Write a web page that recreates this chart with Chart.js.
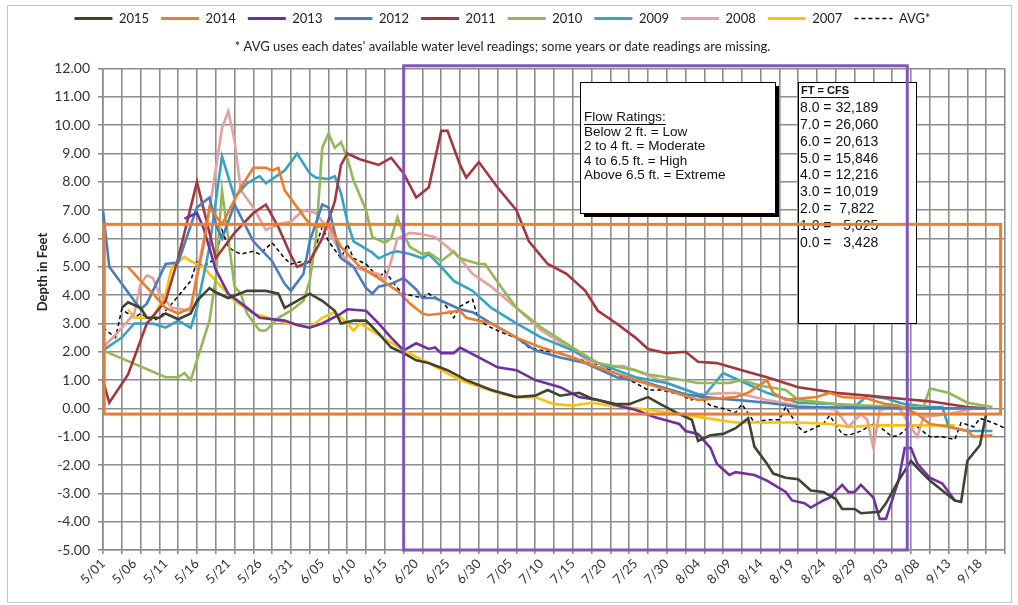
<!DOCTYPE html>
<html>
<head>
<meta charset="utf-8">
<script src="https://cdn.jsdelivr.net/npm/chart.js@4.4.0/dist/chart.umd.min.js"></script>
<style>
  html, body { margin: 0; padding: 0; background: #fff; }
  #wrap { width: 1018px; height: 605px; }
</style>
</head>
<body>
<div id="wrap"><canvas id="chart"></canvas></div>
<script>
// days 5/01 .. 9/22
const months = [['5', 31], ['6', 30], ['7', 31], ['8', 31], ['9', 22]];
const days = [];
months.forEach(([m, n]) => {
  for (let d = 1; d <= n; d++) days.push(m + '/' + String(d).padStart(2, '0'));
});

// [day index, depth in feet]
const s2015 = [[3,3.55],[4,3.75],[6,3.55],[7,3.2],[9,3.2],[10,3.35],[12,3.15],[14,3.35],[15,3.8],[17,4.25],[18,4.1],[20,3.9],[23,4.15],[26,4.15],[28,4.05],[29,3.55],[31,3.8],[33,4.05],[35,3.8],[37,3.45],[38,3.0],[40,3.1],[42,3.1],[44,2.65],[46,2.15],[48,1.95],[50,1.7],[52,1.6],[55,1.35],[58,1.0],[62,0.65],[66,0.4],[69,0.45],[71,0.65],[73,0.45],[76,0.55],[78,0.35],[82,0.15],[84,0.15],[87,0.4],[89,0.15],[92,-0.2],[94,-0.4],[95,-1.15],[97,-0.95],[99,-0.9],[101,-0.7],[103,-0.35],[104,-1.35],[106,-1.95],[107,-2.3],[109,-2.45],[111,-2.5],[113,-2.9],[115,-2.95],[117,-3.2],[118,-3.55],[120,-3.55],[121,-3.7],[124,-3.65],[125,-3.35],[127,-2.55],[129,-1.85],[130,-2.1],[132,-2.55],[134,-2.9],[136,-3.25],[137,-3.3],[138,-1.85],[140,-1.3],[141,-0.2]];
const s2014 = [[4,5.0],[6,4.5],[8,4.05],[10,3.55],[12,3.35],[14,3.55],[16,5.7],[17,7.1],[19,6.5],[22,7.8],[24,8.5],[26,8.5],[27,8.4],[28,8.5],[29,7.7],[31,7.1],[33,6.5],[35,6.4],[36,6.5],[38,5.7],[41,5.0],[44,4.6],[47,4.15],[49,3.7],[51,3.35],[52,3.3],[54,3.35],[57,3.45],[58,3.2],[62,3.0],[66,2.5],[70,2.15],[75,1.8],[79,1.45],[85,1.0],[90,0.65],[95,0.3],[101,0.4],[103,0.55],[106,1.0],[107,0.55],[109,0.3],[114,0.4],[116,0.55],[118,0.4],[122,0.35],[125,0.15],[127,0.1],[130,-0.2],[132,-0.55],[135,-0.65],[138,-0.8],[139,-1.0],[142,-0.95]];
const s2013 = [[13,6.7],[15,6.9],[16,6.4],[18,4.9],[20,4.05],[23,3.55],[25,3.2],[29,3.1],[31,2.95],[33,2.85],[35,3.0],[38,3.35],[39,3.5],[42,3.45],[44,3.0],[46,2.5],[48,2.05],[50,2.3],[52,2.1],[53,2.15],[54,1.95],[56,1.95],[57,2.15],[60,1.8],[63,1.45],[66,1.35],[69,1.0],[73,0.75],[76,0.4],[79,0.3],[83,0.05],[85,-0.05],[88,-0.3],[92,-0.55],[93,-0.8],[95,-0.9],[97,-1.4],[98,-1.95],[100,-2.35],[101,-2.25],[104,-2.35],[106,-2.55],[109,-2.95],[110,-3.25],[112,-3.35],[113,-3.5],[115,-3.25],[116,-3.15],[118,-2.7],[119,-2.95],[120,-2.95],[121,-2.7],[123,-3.15],[124,-3.9],[125,-3.9],[127,-2.55],[128,-1.4],[129,-1.4],[130,-1.95],[132,-2.45],[134,-2.65],[136,-3.25]];
const s2012 = [[0,7.0],[1,5.0],[6,3.5],[7,3.7],[10,5.1],[12,5.15],[15,7.1],[17,7.45],[18,6.5],[19,6.0],[21,7.2],[24,5.9],[27,5.2],[29,4.4],[30,4.15],[32,4.75],[33,5.9],[35,7.2],[36,7.1],[38,5.3],[40,5.0],[42,4.25],[43,4.05],[44,4.3],[46,4.4],[48,4.6],[50,4.2],[51,3.9],[53,3.9],[54,3.8],[57,3.5],[59,3.4],[62,3.0],[66,2.5],[69,2.05],[73,1.8],[77,1.6],[82,1.1],[87,0.9],[93,0.5],[96,0.4],[101,0.3],[106,0.2],[111,0.05],[128,0.0],[141,0.0]];
const s2011 = [[0,1.0],[1,0.2],[4,1.2],[7,3.0],[10,3.8],[12,5.3],[15,8.0],[16,7.1],[18,5.3],[21,6.2],[24,6.9],[26,7.2],[28,6.4],[30,5.4],[31,5.0],[33,5.2],[35,6.0],[37,7.3],[38,8.6],[39,9.0],[41,8.8],[44,8.6],[46,8.85],[48,8.3],[50,7.45],[52,7.8],[54,9.8],[55,9.8],[57,8.6],[58,8.15],[60,8.7],[63,7.8],[66,7.0],[68,5.9],[71,5.1],[74,4.75],[77,4.15],[79,3.45],[82,3.0],[85,2.5],[87,2.1],[90,1.95],[93,2.0],[95,1.65],[98,1.6],[102,1.35],[106,1.1],[111,0.75],[117,0.55],[122,0.45],[127,0.35],[132,0.25],[138,0.05],[141,0.0]];
const s2010 = [[0,2.05],[10,1.1],[12,1.1],[13,1.25],[14,1.0],[17,3.1],[18,4.6],[19,7.7],[20,6.0],[21,4.3],[22,4.05],[23,3.35],[25,2.75],[26,2.75],[28,3.2],[30,3.45],[32,3.8],[33,4.5],[34,6.0],[35,9.2],[36,9.7],[37,9.2],[38,9.4],[39,8.85],[40,8.05],[42,7.0],[43,6.05],[45,5.85],[46,6.0],[47,6.75],[48,6.15],[49,5.7],[51,5.45],[52,5.5],[54,5.2],[56,5.55],[57,5.3],[60,5.1],[61,5.1],[64,4.15],[66,3.55],[70,2.85],[75,2.15],[79,1.6],[85,1.35],[87,1.2],[90,1.1],[95,0.9],[100,0.9],[102,1.0],[105,0.8],[109,0.65],[111,0.3],[117,0.15],[122,0.1],[127,0.05],[131,0.05],[132,0.7],[135,0.55],[138,0.2],[142,0.05]];
const s2009 = [[0,2.05],[3,2.5],[5,3.0],[8,3.0],[10,2.85],[12,3.1],[14,2.85],[15,3.55],[17,5.7],[19,8.9],[21,7.45],[23,7.95],[25,8.2],[26,7.95],[29,8.4],[31,9.0],[33,8.3],[34,8.15],[36,8.1],[37,8.2],[38,7.6],[39,6.6],[40,5.9],[43,5.5],[44,5.3],[46,5.5],[47,5.55],[49,5.45],[51,5.3],[52,5.45],[54,5.0],[56,4.5],[59,4.15],[62,3.55],[66,3.0],[70,2.5],[75,2.05],[79,1.6],[85,1.1],[90,0.9],[95,0.5],[96,0.45],[99,1.25],[102,0.95],[106,0.55],[111,0.2],[117,0.15],[120,0.05],[122,0.45],[125,0.35],[128,0.15],[132,0.05],[134,0.05],[135,-0.65],[138,-0.8],[142,-0.8]];
const s2008 = [[0,2.15],[2,2.6],[5,3.35],[6,4.4],[7,4.7],[8,4.6],[9,4.05],[11,3.55],[14,3.45],[15,4.75],[17,7.0],[19,9.9],[20,10.5],[21,9.45],[22,7.7],[24,7.1],[26,6.3],[28,6.5],[30,6.6],[32,7.0],[34,6.9],[36,6.3],[38,5.45],[40,5.0],[42,4.85],[44,4.75],[45,4.5],[46,5.2],[47,6.0],[49,6.2],[51,6.15],[53,6.05],[55,5.7],[57,5.3],[59,4.75],[62,4.3],[66,3.55],[70,2.75],[75,2.05],[79,1.45],[83,1.5],[85,1.35],[90,0.9],[95,0.5],[101,0.55],[106,0.3],[111,0.1],[117,-0.05],[119,-0.65],[121,-0.2],[122,-0.4],[123,-1.4],[124,-0.05],[127,0.05],[130,-1.0],[131,-0.3],[135,-0.2],[139,0.0]];
const s2007 = [[4,3.5],[5,3.2],[8,3.2],[10,4.05],[11,5.0],[13,5.35],[14,5.2],[16,5.0],[18,4.5],[21,3.8],[24,3.35],[28,3.1],[31,2.95],[33,2.85],[35,3.2],[37,3.4],[39,3.0],[40,2.75],[41,3.0],[44,2.6],[48,2.05],[52,1.6],[57,1.0],[63,0.55],[66,0.4],[69,0.4],[72,0.15],[75,0.1],[78,0.2],[81,0.1],[87,-0.05],[92,-0.2],[95,-0.3],[101,-0.5],[111,-0.5],[116,-0.55],[119,-0.65],[124,-0.6],[130,-0.6],[136,-0.6]];
const sAvg = [[0,2.85],[2,2.5],[3,3.5],[5,3.2],[6,3.35],[8,3.1],[9,3.2],[11,3.7],[14,4.5],[15,5.2],[16,5.0],[18,5.3],[19,6.3],[20,5.7],[21,5.55],[22,5.45],[24,5.55],[25,5.45],[27,5.85],[29,5.3],[30,5.1],[32,5.2],[33,5.1],[35,6.4],[36,5.9],[38,5.3],[39,5.8],[40,5.3],[42,5.1],[44,4.6],[45,4.85],[47,4.25],[48,4.05],[51,3.9],[52,4.05],[54,3.8],[55,3.55],[56,3.2],[57,3.6],[59,3.85],[60,3.1],[62,2.85],[64,2.65],[66,2.5],[68,2.15],[70,2.05],[73,1.95],[75,1.8],[78,1.6],[81,1.35],[83,1.1],[85,0.9],[87,0.65],[89,0.65],[92,0.5],[94,0.3],[95,0.45],[97,0.1],[99,0.0],[101,-0.15],[102,0.15],[104,-0.5],[106,-0.4],[108,-0.4],[109,0.05],[111,-0.65],[112,-0.85],[115,-0.55],[116,-0.25],[118,-0.9],[119,-0.95],[121,-0.8],[123,-0.55],[124,-0.65],[126,-1.0],[127,-0.95],[129,-0.6],[130,-0.65],[132,-1.0],[134,-1.0],[136,-1.1],[137,-0.5],[139,-0.65],[140,-0.35],[142,-0.5],[144,-0.7]];

const seriesNames = ['2015', '2014', '2013', '2012', '2011', '2010', '2009', '2008', '2007', 'AVG*'];
const seriesData = [s2015, s2014, s2013, s2012, s2011, s2010, s2009, s2008, s2007, sAvg];
const seriesColors = ['#424231', '#ec7d2e', '#7030a0', '#4a7ebb', '#a3373e', '#93b856', '#35a3c5', '#e3a09e', '#fbc20a', '#000000'];

const yTicks = { min: -5, max: 12, step: 1 };

const subtitleText = "* AVG uses each dates' available water level readings; some years or date readings are missing.";
const flowTitle = 'Flow Ratings:';
const flowLines = ['Below 2 ft. = Low', '2 to 4 ft. = Moderate', '4 to 6.5 ft. = High', 'Above 6.5 ft. = Extreme'];
const cfsTitle = 'FT = CFS';
const cfsLines = ['8.0 = 32,189', '7.0 = 26,060', '6.0 = 20,613', '5.0 = 15,846', '4.0 = 12,216', '3.0 = 10,019', '2.0 =  7,822', '1.0 =   5,625', '0.0 =   3,428'];

// highlight boxes in data units: [day from, day to, depth from, depth to]
const orangeBox = [0.2, 143.3, -0.2, 6.5];
const purpleBox = [48, 128.4, -5, 12.1];

const datasets = seriesNames.map((name, i) => ({
  label: name,
  data: seriesData[i].map(([d, v]) => ({ x: days[d], y: v })),
  borderColor: seriesColors[i],
  backgroundColor: seriesColors[i],
  borderWidth: name === 'AVG*' ? 1.5 : 2.6,
  borderDash: name === 'AVG*' ? [4, 3] : [],
  pointRadius: 0,
  tension: 0,
  fill: false
}));

const extras = {
  id: 'extras',
  afterDatasetsDraw(chart) {
    const { ctx, scales: { x, y } } = chart;
    ctx.save();

    // flow ratings box with shadow
    const fx = 580, fy = 82, fw = 195, fh = 131;
    ctx.fillStyle = '#000';
    ctx.fillRect(fx + 4, fy + 4, fw, fh);
    ctx.fillStyle = '#fff';
    ctx.fillRect(fx, fy, fw, fh);
    ctx.strokeStyle = '#000';
    ctx.lineWidth = 1;
    ctx.strokeRect(fx + 0.5, fy + 0.5, fw, fh);
    ctx.fillStyle = '#111';
    ctx.font = '13.5px "Liberation Sans", Arial, sans-serif';
    ctx.textBaseline = 'middle';
    ctx.textAlign = 'left';
    ctx.fillText(flowTitle, fx + 4, 117);
    const tw = ctx.measureText(flowTitle).width;
    ctx.fillRect(fx + 4, 124, tw, 1);
    flowLines.forEach((t, i) => ctx.fillText(t, fx + 4, 132 + i * 14.5));

    // ft / cfs box
    const cx = 798, cy = 82, cw = 118, ch = 241;
    ctx.fillStyle = '#fff';
    ctx.fillRect(cx, cy, cw, ch);
    ctx.strokeStyle = '#000';
    ctx.strokeRect(cx + 0.5, cy + 0.5, cw, ch);
    ctx.fillStyle = '#111';
    ctx.font = 'bold 11px "Liberation Sans", Arial, sans-serif';
    ctx.fillText(cfsTitle, cx + 3, 91);
    ctx.fillRect(cx + 3, 97, ctx.measureText(cfsTitle).width, 1);
    ctx.font = '14px "Liberation Sans", Arial, sans-serif';
    cfsLines.forEach((t, i) => ctx.fillText(t, cx + 2, 108 + i * 16.9));

    // highlight rectangles
    const rect = (b, color) => {
      const l = x.getPixelForValue(b[0]), r = x.getPixelForValue(b[1]);
      const t = y.getPixelForValue(b[3]), btm = y.getPixelForValue(b[2]);
      ctx.strokeStyle = color;
      ctx.lineWidth = 3;
      ctx.strokeRect(l, t, r - l, btm - t);
    };
    rect(orangeBox, '#ed7d31');
    rect(purpleBox, '#8057b8');
    ctx.restore();
  },
  afterDraw(chart) {
    const { ctx } = chart;
    ctx.save();
    ctx.strokeStyle = '#c4c4c4';
    ctx.lineWidth = 1;
    ctx.strokeRect(7.5, 5.5, 1004, 597);
    ctx.translate(43, 272);
    ctx.rotate(-Math.PI / 2);
    ctx.fillStyle = '#222';
    ctx.font = 'bold 13px Lato, sans-serif';
    ctx.textAlign = 'center';
    ctx.textBaseline = 'middle';
    ctx.fillText('Depth in Feet', 0, 0);
    ctx.restore();
  }
};

new Chart(document.getElementById('chart'), {
  type: 'line',
  data: { labels: days, datasets },
  options: {
    responsive: true,
    maintainAspectRatio: false,
    animation: false,
    layout: { padding: { left: 0, right: 13, top: 0, bottom: 0 } },
    plugins: {
      legend: {
        position: 'top',
        labels: {
          usePointStyle: true,
          pointStyle: 'line',
          pointStyleWidth: 38,
          padding: 12,
          color: '#222',
          font: { family: 'Lato', size: 13 },
          // legend samples should carry the series' own line width and dash
          generateLabels: chart => Chart.defaults.plugins.legend.labels.generateLabels(chart).map(item => {
            const ds = chart.data.datasets[item.datasetIndex];
            item.strokeStyle = ds.borderColor;
            item.lineDash = ds.borderDash;
            item.lineWidth = ds.borderDash.length ? 1.5 : 3;
            return item;
          })
        }
      },
      subtitle: {
        display: true,
        text: subtitleText,
        weight: 500,
        color: '#222',
        font: { family: 'Lato', size: 13 },
        padding: { top: 4, bottom: 14 }
      },
      tooltip: { enabled: false }
    },
    scales: {
      x: {
        type: 'category',
        offset: false,
        afterFit: s => { s.height = 55; },
        grid: {
          color: c => (c.index % 3 === 0 ? '#8c8c8c' : 'rgba(0,0,0,0)'),
          lineWidth: 1.6,
          tickLength: 4
        },
        border: { color: '#8c8c8c', width: 1.6 },
        ticks: {
          autoSkip: false,
          minRotation: 45,
          maxRotation: 45,
          padding: 2,
          color: '#333',
          font: { family: 'Lato', size: 13 },
          callback: (v, i) => (i % 5 === 0 ? days[i] : '')
        }
      },
      y: {
        min: yTicks.min,
        max: yTicks.max,
        afterFit: s => { s.width = 103; },
        grid: { color: '#8c8c8c', lineWidth: 1.6, tickLength: 5 },
        border: { color: '#8c8c8c', width: 1.6 },
        ticks: {
          stepSize: yTicks.step,
          padding: 8,
          color: '#333',
          font: { family: 'Lato', size: 14 },
          callback: v => v.toFixed(2)
        }
      }
    }
  },
  plugins: [extras]
});
</script>
</body>
</html>
